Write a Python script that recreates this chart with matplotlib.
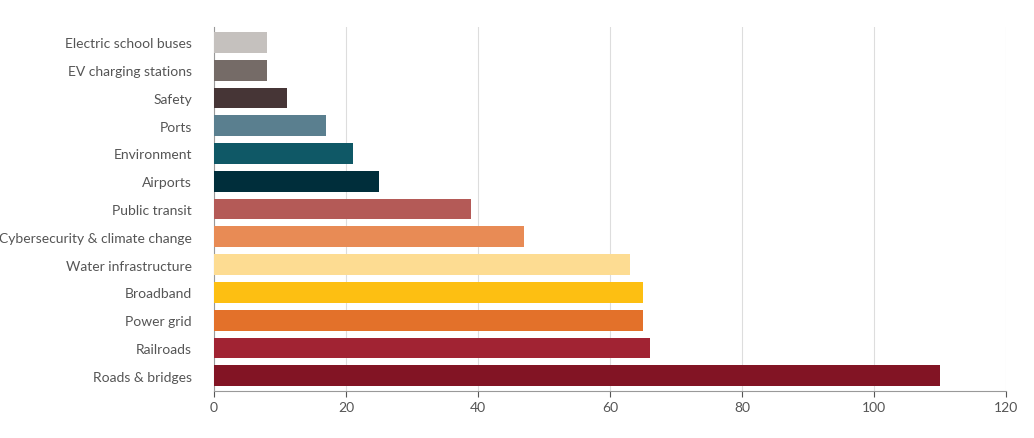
import matplotlib.pyplot as plt

categories = ["Electric school buses", "EV charging stations", "Safety", "Ports",
              "Environment", "Airports", "Public transit",
              "Cybersecurity & climate change", "Water infrastructure",
              "Broadband", "Power grid", "Railroads", "Roads & bridges"]
values = [8, 8, 11, 17, 21, 25, 39, 47, 63, 65, 65, 66, 110]
colors = ["#c5c1be", "#756b67", "#463536", "#5a7f8f", "#0f5866", "#002e3b",
          "#b45a57", "#e88b55", "#fddc92", "#fdbf12", "#e3712a", "#a12333",
          "#821424"]
x_ticks = [0, 20, 40, 60, 80, 100, 120]

plt.rcParams["font.family"] = "Lato"
fig = plt.figure(figsize=(10.34, 4.39), dpi=100)
ax = fig.add_axes([0.207, 0.107, 0.766, 0.829])

ypos = list(range(len(categories)))
ax.barh(ypos, values, height=0.75, color=colors, zorder=3)
ax.set_yticks(ypos)
ax.set_yticklabels(categories, fontsize=10, color="#555555")
ax.invert_yaxis()
ax.set_ylim(len(categories) - 0.45, -0.55)
ax.set_xlim(0, 120)
ax.set_xticks(x_ticks)
ax.tick_params(axis="x", labelsize=10, colors="#555555", length=4)
ax.tick_params(axis="y", length=0, pad=16)
ax.grid(axis="x", color="#dddddd", linewidth=0.8, zorder=0)
for s in ["top", "right"]:
    ax.spines[s].set_visible(False)
ax.spines["left"].set_color("#999999")
ax.spines["bottom"].set_color("#999999")

fig.savefig("out.png", dpi=100)
